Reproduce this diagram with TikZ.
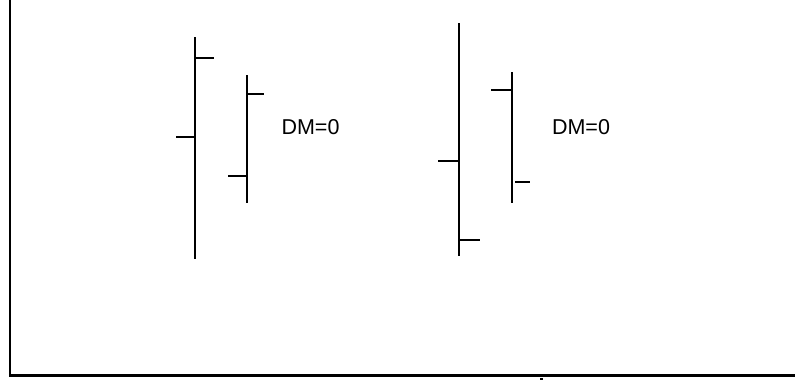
\documentclass[tikz,border=0pt]{standalone}
\usepackage{fontspec}
\setmainfont{Liberation Sans}
\begin{document}
\begin{tikzpicture}[x=1pt,y=-1pt,
  bar/.style={line width=2pt,black},
  frameline/.style={line width=2.5pt,black},
  lbl/.style={font=\fontsize{21.5}{24}\selectfont,inner sep=0pt,anchor=center}]
\useasboundingbox (0,0) rectangle (795,380);
% frame
\draw[frameline] (10,0) -- (10,375.5) -- (795,375.5);
\fill (540,377.5) rectangle (543,380);
% chart 1
\draw[bar] (195,37) -- (195,259);
\draw[bar] (195,58) -- (214,58);
\draw[bar] (176,137) -- (195,137);
\draw[bar] (247,75) -- (247,203);
\draw[bar] (247,94) -- (264,94);
\draw[bar] (228,176) -- (247,176);
\node[lbl] (t1) at (310.5,127.5) {DM=0};
% chart 2
\draw[bar] (459,23) -- (459,256);
\draw[bar] (438,161) -- (459,161);
\draw[bar] (459,240) -- (480,240);
\draw[bar] (512,72) -- (512,203);
\draw[bar] (491,90) -- (512,90);
\draw[bar] (515,182) -- (530,182);
\node[lbl] (t2) at (581,127.5) {DM=0};
\end{tikzpicture}
\end{document}
